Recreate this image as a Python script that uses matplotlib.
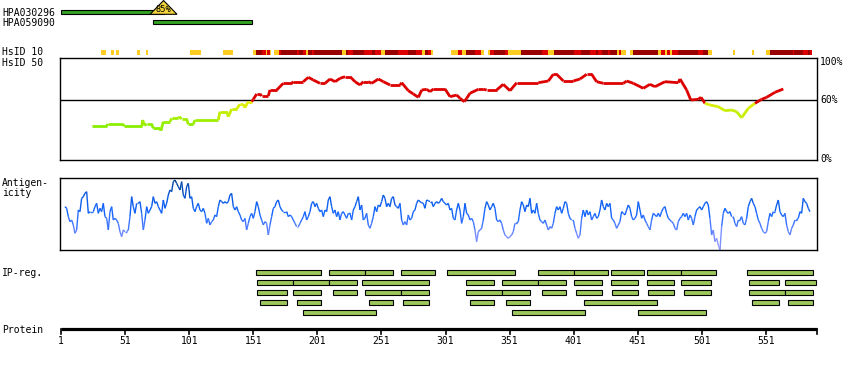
import numpy as np
import matplotlib.pyplot as plt
from matplotlib.collections import LineCollection
from matplotlib.colors import LinearSegmentedColormap
from matplotlib.patches import Rectangle, Polygon

# ---- data ----
protein_length = 591
tick_residues = [1, 51, 101, 151, 201, 251, 301, 351, 401, 451, 501, 551]

antibody_names = ['HPA030296', 'HPA059090']
antibody_start = [1, 73]
antibody_end = [81, 150]
antibody_score = ['85%', None]

# HsID 10 band: (start, end, level)  Y = low, R = mid, D = high
band_runs = [(32, 36, 'Y'), (40, 42, 'Y'), (44, 46, 'Y'), (60, 63, 'Y'), (67, 69, 'Y'),
             (102, 110, 'Y'), (127, 135, 'Y'), (151, 153, 'Y'), (153, 158, 'D'), (158, 161, 'R'),
             (161, 162, 'Y'), (162, 164, 'R'), (164, 165, 'Y'), (167, 171, 'Y'), (171, 173, 'R'),
             (173, 185, 'D'), (185, 187, 'R'), (187, 190, 'D'), (190, 192, 'R'), (192, 194, 'Y'),
             (194, 197, 'D'), (197, 198, 'R'), (198, 220, 'D'), (220, 223, 'Y'), (223, 225, 'D'),
             (225, 229, 'R'), (229, 237, 'D'), (237, 244, 'R'), (244, 246, 'D'), (246, 251, 'R'),
             (251, 254, 'Y'), (254, 264, 'D'), (264, 272, 'R'), (272, 278, 'D'), (278, 283, 'R'),
             (283, 285, 'Y'), (285, 287, 'D'), (287, 290, 'R'), (290, 291, 'Y'), (305, 311, 'Y'),
             (311, 314, 'R'), (314, 317, 'Y'), (317, 324, 'D'), (324, 329, 'R'), (329, 331, 'Y'),
             (334, 336, 'Y'), (336, 339, 'R'), (339, 347, 'D'), (347, 350, 'R'), (350, 360, 'Y'),
             (360, 376, 'D'), (376, 381, 'R'), (381, 386, 'Y'), (386, 401, 'D'), (401, 407, 'R'),
             (407, 414, 'D'), (414, 418, 'R'), (418, 420, 'D'), (420, 423, 'R'), (423, 428, 'D'),
             (428, 429, 'R'), (429, 435, 'D'), (435, 436, 'Y'), (436, 438, 'R'), (438, 442, 'Y'),
             (445, 447, 'Y'), (447, 467, 'D'), (467, 469, 'Y'), (469, 472, 'R'), (472, 474, 'Y'),
             (474, 476, 'R'), (476, 478, 'Y'), (478, 482, 'R'), (482, 498, 'D'), (498, 502, 'R'),
             (502, 506, 'D'), (506, 509, 'Y'), (525, 527, 'Y'), (540, 542, 'Y'), (551, 554, 'Y'),
             (554, 572, 'D'), (572, 573, 'R'), (573, 580, 'D'), (580, 584, 'R'), (584, 585, 'D'),
             (585, 587, 'R')]

# HsID 50 identity curve (residue, % identity)
identity_res = [25, 36.6, 37.4, 49.6, 50, 64, 64.7, 66, 67.8, 71.7, 73, 78.2, 79, 80.8, 86, 87.4,
                92.5, 93.3, 95.1, 99, 100.3, 104.2, 105.5, 123.7, 125, 130.3, 131.5, 134.2, 138,
                140.6, 143.2, 144.5, 147, 149.8, 151, 153.7, 156.3, 157.6, 162.7, 164, 169.3, 174.4,
                181, 182.2, 190, 194, 197.8, 203, 207, 210.9, 214.8, 218.7, 222.6, 226.5, 230.4,
                234.3, 236.8, 240.7, 243.4, 248.6, 252.5, 257.7, 265.5, 266.8, 272, 275.9, 279.8,
                282.4, 286.3, 288.9, 291.5, 300.6, 304.5, 309.7, 312.3, 315.6, 317.5, 320, 326.6,
                330.5, 333.1, 340.9, 346, 351.3, 356.5, 373.4, 381.2, 385.1, 387.7, 392.9, 400.7,
                405.9, 411.1, 415, 418.9, 424.1, 439.7, 442.3, 447.5, 455.3, 460.5, 464.4, 472.2,
                482.6, 483.9, 489.1, 492.3, 498.2, 500.3, 503.4, 507.3, 513.8, 519, 524.2, 528.1,
                532, 537.2, 542.4, 547.6, 551.5, 558, 564.5]
identity_pct = [34, 34, 36.3, 36.3, 34, 34, 40.3, 35, 36.3, 36.3, 32, 32, 29.6, 38.6, 38.6, 42,
                42, 43.6, 41.3, 41.3, 36, 36, 40.3, 40.3, 48.6, 48.6, 43.6, 51.3, 51.3,
                56, 56, 52.6, 58.6, 58.6, 61, 66.3, 66.3, 64.3, 64.3, 70.3, 70.3, 77,
                77, 78.6, 78.6, 83, 80.3, 77, 77, 81.3, 78.6, 82, 83.6, 83.6, 78.6,
                75.3, 78.6, 78.6, 77, 81.3, 78.6, 75.3, 75.3, 77.6, 69.6, 66.3, 63,
                70.3, 71, 68.6, 71.3, 71.3, 63.6, 65.3, 62, 58.6, 62, 67, 71,
                71, 70.3, 70.3, 76, 69.6, 77.6, 77.6, 79.3, 86, 86, 79.3, 79.3,
                81.3, 86, 86, 78.6, 77, 77, 79.3, 77, 72, 76, 73.6, 78.6,
                77.6, 81.3, 70.3, 60.3, 61, 63, 57, 55.3, 53.6, 49.6, 50.3, 48.6,
                42.6, 52, 57, 61, 63, 68, 71.3]

# antigenicity profile, sampled along residues 4..585
antigen_first, antigen_last = 4.1, 585.3
antigenicity = [140, 135, 110, 95, 100, 85, 60, 70, 130, 125, 165, 170, 180, 185, 120, 125, 125, 125,
                140, 150, 120, 135, 125, 150, 110, 105, 70, 125, 140, 100, 105, 100, 90, 65, 50, 70,
                65, 65, 70, 110, 170, 140, 120, 150, 150, 155, 120, 70, 100, 140, 120, 130, 140, 170,
                150, 155, 140, 130, 120, 160, 135, 150, 175, 190, 185, 215, 220, 210, 200, 190, 215,
                175, 165, 200, 210, 165, 170, 135, 125, 140, 150, 130, 125, 135, 120, 90, 105, 85,
                95, 100, 115, 110, 140, 160, 155, 150, 155, 150, 155, 175, 180, 140, 130, 140, 125,
                115, 100, 95, 105, 70, 90, 110, 120, 105, 125, 155, 140, 115, 100, 85, 95, 90, 55,
                85, 110, 135, 140, 155, 160, 140, 130, 125, 125, 125, 110, 115, 110, 100, 90, 80, 80,
                90, 100, 110, 125, 100, 110, 125, 150, 155, 140, 150, 135, 125, 130, 110, 130, 125,
                160, 170, 140, 120, 130, 110, 125, 100, 120, 125, 115, 105, 120, 120, 100, 130, 140,
                155, 170, 130, 145, 100, 105, 120, 85, 75, 90, 110, 140, 125, 145, 140, 155, 175, 165,
                140, 150, 140, 165, 170, 145, 140, 135, 150, 100, 85, 95, 85, 115, 100, 105, 125, 130,
                150, 160,
                155, 152, 150, 135, 160, 158, 155, 155, 140, 150, 155, 150, 155, 165, 155, 150, 145,
                150, 130, 135, 105, 100, 130, 150, 130, 90, 110, 150, 120, 115, 100, 105, 95, 70, 35,
                65, 70, 75, 100, 135, 155, 145, 130, 140, 150, 135, 100, 95, 100, 90, 70, 55, 50, 45,
                50, 55, 65, 90, 90, 95, 130, 155, 145, 125, 145, 140, 165, 120, 130, 120, 150, 120,
                100, 95, 90, 100, 85, 70, 80, 75, 90, 120, 140, 130, 140, 120, 135, 155, 150, 120,
                105, 100, 100, 75, 60, 45, 55, 105, 130, 110, 130, 115, 125, 100, 110, 120, 105, 110,
                130, 160, 140, 130, 150, 140, 150, 105, 100, 90, 75, 85, 95, 125, 120, 115, 130, 145,
                135, 110, 100, 105, 115, 155, 130, 105, 115, 100, 90, 80, 70, 100, 120, 115, 110, 120,
                110, 125, 135, 140, 120, 105, 100, 95, 90, 75, 70, 95, 105, 110, 120, 110, 120, 100,
                115, 105, 85, 110, 130, 135, 140, 130, 140, 150, 155, 145, 105, 55, 70, 35, 45, 25,
                10, 80, 120, 135, 125, 120, 125, 110, 110, 90, 80, 100, 100, 110, 90, 85, 105, 140,
                155, 165, 150, 140, 120, 100, 90, 75, 65, 60, 65, 95, 120, 110, 125, 125, 145, 160,
                125, 115, 110, 120, 85, 65, 55, 75, 85, 100, 100, 105, 125, 120, 165, 155, 150, 135,
                125]

# IP-regions, one list per row: (start, end)
ip_rows = [
    [(153, 204), (210, 238), (238, 260), (266, 293), (302, 355), (373, 401), (401, 428),
     (430, 456), (458, 485), (485, 512), (536, 588)],
    [(154, 182), (182, 210), (210, 232), (236, 288), (317, 339), (345, 373), (373, 395),
     (401, 423), (430, 451), (458, 479), (485, 508), (538, 561), (566, 590)],
    [(154, 177), (182, 204), (213, 232), (238, 266), (266, 288), (317, 345), (345, 367),
     (376, 395), (403, 423), (431, 451), (459, 479), (487, 508), (538, 566), (566, 588)],
    [(156, 177), (185, 204), (241, 260), (268, 288), (320, 339), (348, 367), (409, 466),
     (540, 561), (568, 588)],
    [(190, 247), (353, 410), (451, 504)],
]

# ---- layout (pixels) ----
W, H = 850, 370
X0, PX = 59.72, 1.2818        # pixel of residue 0, pixels per residue
PANEL_L, PANEL_R = 60, 817
FONT = dict(family='DejaVu Sans Mono', fontsize=7, color='black')

fig = plt.figure(figsize=(W / 100, H / 100), dpi=100)
ax = fig.add_axes([0, 0, 1, 1])
ax.set_xlim(-X0 / PX, (W - X0) / PX)
ax.set_ylim(H, 0)
ax.axis('off')


def label(x, y, s, **kw):
    fig.text(x / W, 1 - y / H, s, va='center', ha=kw.pop('ha', 'left'), **FONT, **kw)


def panel(top, bottom):
    a = fig.add_axes([PANEL_L / W, 1 - bottom / H, (PANEL_R - PANEL_L) / W, (bottom - top) / H])
    a.set_xlim((PANEL_L - X0) / PX, (PANEL_R - X0) / PX)
    a.set_xticks([])
    a.set_yticks([])
    for s in a.spines.values():
        s.set_linewidth(1.0)
    a.patch.set_alpha(0)
    return a


# antibodies
ab_rows = [10, 20]
for name, s, e, sc, y in zip(antibody_names, antibody_start, antibody_end, antibody_score, ab_rows):
    label(2, y + 2.5, name)
    ax.add_patch(Rectangle((s, y), e - s, 4.3, facecolor='#33a422', edgecolor='black', lw=0.8))
    if sc:
        half = 10.5
        ax.add_patch(Polygon([(e - half, 14.3), (e + half, 14.3), (e, 0.5)], closed=True,
                             facecolor='#f3d43c', edgecolor='black', lw=0.8, zorder=3))
        ax.text(e, 9.3, sc, ha='center', va='center', fontsize=6.2,
                family='DejaVu Sans Mono', zorder=4)

# HsID 10 band
band_colors = {'Y': '#ffcc22', 'R': '#dd0000', 'D': '#990000'}
label(2, 52, 'HsID 10')
for s, e, lev in band_runs:
    ax.add_patch(Rectangle((s, 50), e - s, 5, facecolor=band_colors[lev], edgecolor='none'))

# HsID 50 identity panel
label(2, 62.5, 'HsID 50')
idax = panel(58.3, 160.3)
idax.set_ylim(0, 102)
idax.axhline(60, color='black', lw=1.0)
ident_cmap = LinearSegmentedColormap.from_list('ident', ['#88ee00', '#bbee00', '#e8ee10'])
pts = np.column_stack([identity_res, identity_pct])
segs = np.stack([pts[:-1], pts[1:]], axis=1)
seg_val = np.maximum(pts[:-1, 1], pts[1:, 1])
cols = [('#dd0000' if v >= 60 else ident_cmap(np.clip((v - 35) / 25, 0, 1))) for v in seg_val]
idax.add_collection(LineCollection(segs, colors=cols, linewidths=2.0, capstyle='butt'))
for v, y in [(100, 62), (60, 100.3), (0, 159)]:
    label(820, y, f'{v}%')

# antigenicity panel
label(2, 183.5, 'Antigen-')
label(2, 193, 'icity')
agax = panel(178, 250.3)
agax.set_ylim(9, 226)
ag_res = np.linspace(antigen_first, antigen_last, len(antigenicity))
apts = np.column_stack([ag_res, antigenicity])
asegs = np.stack([apts[:-1], apts[1:]], axis=1)
ag_cmap = LinearSegmentedColormap.from_list('ag', ['#a0a0ff', '#5a80ff', '#1466ff', '#0858e0', '#073f90'])
aval = (apts[:-1, 1] + apts[1:, 1]) / 2
agax.add_collection(LineCollection(asegs, colors=ag_cmap(np.clip((aval - 20) / 200, 0, 1)),
                                   linewidths=1.0))

# IP-regions
label(2, 272.5, 'IP-reg.')
for i, row in enumerate(ip_rows):
    y = 270.3 + 10 * i
    for s, e in row:
        ax.add_patch(Rectangle((s, y), e - s, 4.2, facecolor='#9dc75b', edgecolor='black', lw=0.8))

# protein axis
label(2, 330, 'Protein')
ax.plot([1, protein_length], [329.3, 329.3], color='black', lw=2.3, solid_capstyle='butt')
for t in tick_residues + [protein_length]:
    ax.plot([t, t], [329.3, 333.5], color='black', lw=1.2)
for t in tick_residues:
    ax.text(t, 341.5, str(t), ha='center', va='center', **FONT)

fig.savefig('out.png', dpi=100)
